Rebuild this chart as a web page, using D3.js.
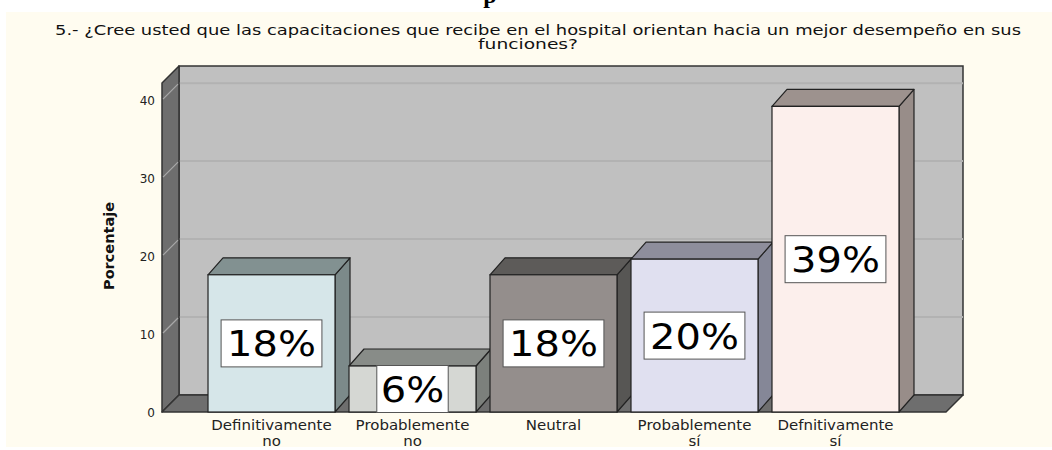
<!DOCTYPE html>
<html>
<head>
<meta charset="utf-8">
<script src="https://cdn.jsdelivr.net/npm/d3@7"></script>
<style>
  html, body { margin: 0; padding: 0; background: #ffffff; }
  svg { display: block; }
</style>
</head>
<body>
<svg id="chart" width="1052" height="450"></svg>
<script>
// ---- data ----
const titleLines = ["5.- ¿Cree usted que las capacitaciones que recibe en el hospital orientan hacia un mejor desempeño en sus", "funciones?"];
const categories = ["Definitivamente no", "Probablemente no", "Neutral", "Probablemente sí", "Defnitivamente sí"];
const categoryLines = [["Definitivamente", "no"], ["Probablemente", "no"], ["Neutral"], ["Probablemente", "sí"], ["Defnitivamente", "sí"]];
const values = [17.6, 5.9, 17.6, 19.6, 39.2];
const valueLabels = ["18%", "6%", "18%", "20%", "39%"];
const yTicks = [0, 10, 20, 30, 40];
const yTitle = "Porcentaje";

// ---- styles ----
const frontColors = ["#d6e6e9", "#d5d7d3", "#948e8c", "#e0e0f0", "#fcefec"];
const topColors   = ["#829191", "#888c88", "#5d5b59", "#8e8e9c", "#9d928e"];
const sideColors  = ["#7c8a8a", "#7c807c", "#575654", "#858797", "#988d89"];

const svg = d3.select("#chart");

// background panel
svg.append("rect").attr("x", 6).attr("y", 12).attr("width", 1046).attr("height", 435).attr("fill", "#fffcf0");

// partial heading glyph at the very top
svg.append("text").attr("x", 490).attr("y", 3).attr("text-anchor", "middle")
  .attr("font-family", "Liberation Serif").attr("font-weight", "bold").attr("font-size", 24)
  .attr("fill", "#000").text("p");

// title
const t1 = svg.append("text").attr("x", 538).attr("y", 35).attr("text-anchor", "middle")
  .attr("font-family", "DejaVu Sans").attr("font-size", 14).attr("fill", "#111")
  .text(titleLines[0]);
t1.attr("textLength", 966).attr("lengthAdjust", "spacingAndGlyphs");
const t2 = svg.append("text").attr("x", 528).attr("y", 49).attr("text-anchor", "middle")
  .attr("font-family", "DejaVu Sans").attr("font-size", 14).attr("fill", "#111")
  .text(titleLines[1]);
t2.attr("textLength", 100).attr("lengthAdjust", "spacingAndGlyphs");

// scales
const y = d3.scaleLinear().domain([0, 42.2]).range([412, 83]);
const x = d3.scaleBand().domain(categories).range([201, 906]).paddingInner(0.0993).paddingOuter(0.0497);

const wallDX = 17, wallDY = 17;
const barDX = 15, barDY = 17;
const xL = 162, xR = 946;
const y0 = y(0), yTop = y(42.2);

// back wall
svg.append("rect").attr("x", xL + wallDX).attr("y", yTop - wallDY)
  .attr("width", (xR + wallDX) - (xL + wallDX)).attr("height", y0 - yTop)
  .attr("fill", "#c0c0c0").attr("stroke", "#333").attr("stroke-width", 1.5);

// gridlines on back wall
const gridVals = yTicks.filter(v => v > 0);
svg.append("g").selectAll("line").data(gridVals).join("line")
  .attr("x1", xL + wallDX).attr("x2", xR + wallDX)
  .attr("y1", d => y(d) - wallDY).attr("y2", d => y(d) - wallDY)
  .attr("stroke", "#b2b2b2").attr("stroke-width", 2);

// left wall
svg.append("path")
  .attr("d", `M${xL},${yTop} L${xL + wallDX},${yTop - wallDY} L${xL + wallDX},${y0 - wallDY} L${xL},${y0} Z`)
  .attr("fill", "#6e6e6e").attr("stroke", "#333").attr("stroke-width", 1.5).attr("stroke-linejoin", "round");

// diagonal grid on left wall
svg.append("g").selectAll("line").data(gridVals).join("line")
  .attr("x1", xL + 1).attr("x2", xL + wallDX - 1)
  .attr("y1", d => y(d) - 1).attr("y2", d => y(d) - wallDY + 1)
  .attr("stroke", "#a8a8a8").attr("stroke-width", 1.2);

// floor
svg.append("path")
  .attr("d", `M${xL},${y0} L${xL + wallDX},${y0 - wallDY} L${xR + wallDX},${y0 - wallDY} L${xR},${y0} Z`)
  .attr("fill", "#6e6e6e").attr("stroke", "#333").attr("stroke-width", 1.5).attr("stroke-linejoin", "round");

// y tick labels
svg.append("g").selectAll("text").data(yTicks).join("text")
  .attr("x", 155).attr("y", d => y(d) + 4.5).attr("text-anchor", "end")
  .attr("font-family", "DejaVu Sans").attr("font-size", 12).attr("fill", "#222")
  .text(d => d);

// y title
svg.append("text").attr("transform", "translate(114,246) rotate(-90)").attr("text-anchor", "middle")
  .attr("font-family", "DejaVu Sans").attr("font-weight", "bold").attr("font-size", 14.5)
  .attr("fill", "#111").text(yTitle);

// bars
const bw = x.bandwidth();
const bars = svg.append("g").selectAll("g").data(categories).join("g");
bars.each(function(c, i) {
  const g = d3.select(this);
  const x0 = x(c), x1 = x0 + bw;
  const yt = y(values[i]);
  // side
  g.append("path")
    .attr("d", `M${x1},${yt} L${x1 + barDX},${yt - barDY} L${x1 + barDX},${y0 - barDY} L${x1},${y0} Z`)
    .attr("fill", sideColors[i]).attr("stroke", "#222").attr("stroke-width", 1.2).attr("stroke-linejoin", "round");
  // top
  g.append("path")
    .attr("d", `M${x0},${yt} L${x0 + barDX},${yt - barDY} L${x1 + barDX},${yt - barDY} L${x1},${yt} Z`)
    .attr("fill", topColors[i]).attr("stroke", "#222").attr("stroke-width", 1.2).attr("stroke-linejoin", "round");
  // front
  g.append("rect").attr("x", x0).attr("y", yt).attr("width", bw).attr("height", y0 - yt)
    .attr("fill", frontColors[i]).attr("stroke", "#222").attr("stroke-width", 1.2);

  // value label
  const cx = x0 + bw / 2, cy = (yt + y0) / 2;
  const box = g.append("rect").attr("fill", "#fff").attr("stroke", "#555").attr("stroke-width", 1);
  const t = g.append("text").attr("x", cx).attr("y", cy + 13).attr("text-anchor", "middle")
    .attr("font-family", "DejaVu Sans").attr("font-size", 36).attr("fill", "#000")
    .text(valueLabels[i]);
  const natural = t.node().getComputedTextLength();
  const target = natural * 1.11;
  t.attr("textLength", target).attr("lengthAdjust", "spacingAndGlyphs");
  const pad = valueLabels[i].length > 2 ? 6 : 4;
  box.attr("x", cx - target / 2 - pad).attr("y", cy - 23.5)
    .attr("width", target + 2 * pad).attr("height", 47);

  // category label (one text per line)
  categoryLines[i].forEach((ln, k) => {
    const lt = g.append("text").attr("x", cx).attr("y", 430 + k * 15.5).attr("text-anchor", "middle")
      .attr("font-family", "DejaVu Sans").attr("font-size", 14).attr("fill", "#222").text(ln);
    const w = lt.node().getComputedTextLength();
    lt.attr("textLength", w * 1.07).attr("lengthAdjust", "spacingAndGlyphs");
  });
});
</script>
</body>
</html>
